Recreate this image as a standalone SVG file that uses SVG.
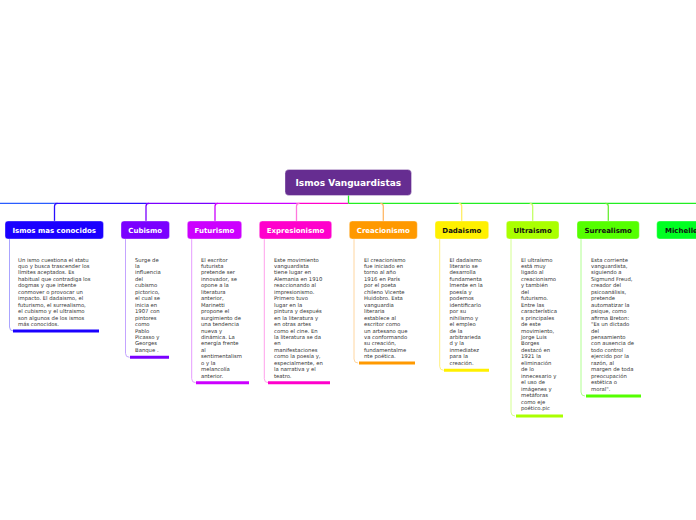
<svg xmlns="http://www.w3.org/2000/svg" width="696" height="520" viewBox="0 0 696 520">
<style>
.lbl{font-family:"DejaVu Sans",Verdana,sans-serif;font-weight:bold;font-size:7px;text-anchor:middle}
.root{font-family:"DejaVu Sans",Verdana,sans-serif;font-weight:bold;font-size:9px;text-anchor:middle;fill:#ffffff}
.w{fill:#ffffff}
.k{fill:#111111}
.body{font-family:"DejaVu Sans",Verdana,sans-serif;font-size:5.3px;fill:#333333}
.box{stroke:#ffffff;stroke-opacity:0.35;stroke-width:1}
.c{fill:none;stroke-width:1.3}
.side{fill:none;stroke-width:1}
.bar{stroke-width:3;fill:none}
</style>
<rect width="696" height="520" fill="#ffffff"/>
<g id="connectors">
<path class="c" d="M0,203.3 H54.5" stroke="#2a5cff"/>
<path class="c" d="M54.5,203.3 H146" stroke="#2a10ff"/>
<path class="c" d="M146,203.3 H215" stroke="#7a00ff"/>
<path class="c" d="M215,203.3 H296.5" stroke="#cc00ff"/>
<path class="c" d="M296.5,203.3 H348.5" stroke="#ff00cc"/>
<path class="c" d="M348.5,203.3 H696" stroke="#22ee22"/>
<path class="c" d="M348.5,195 V203.3" stroke="#22ee22"/>
<path class="c" d="M57.5,203.3 Q54.5,203.3 54.5,206.3 V221" stroke="#2a10ff"/>
<path class="c" d="M149,203.3 Q146,203.3 146,206.3 V221" stroke="#7a00ff"/>
<path class="c" d="M218,203.3 Q215,203.3 215,206.3 V221" stroke="#cc00ff"/>
<path class="c" d="M299.5,203.3 Q296.5,203.3 296.5,206.3 V221" stroke="#ff77dd"/>
<path class="c" d="M380.3,203.3 Q383.3,203.3 383.3,206.3 V221" stroke="#ffb866"/>
<path class="c" d="M458.7,203.3 Q461.7,203.3 461.7,206.3 V221" stroke="#ffee66"/>
<path class="c" d="M529.7,203.3 Q532.7,203.3 532.7,206.3 V221" stroke="#c4ff66"/>
<path class="c" d="M605.3,203.3 Q608.3,203.3 608.3,206.3 V221" stroke="#66ee33"/>
</g>
<g id="root">
<rect x="285" y="169.5" width="126.5" height="26" rx="4" fill="#662d91" class="box"/>
<text class="root" x="348.3" y="185.8">Ismos Vanguardistas</text>
</g>
<g id="n1">
<path class="side" d="M9.5,239 V327 Q9.5,331 13.5,331" stroke="#aaa4ff"/>
<line class="bar" x1="13" y1="331" x2="99" y2="331" stroke="#1a00ff"/>
<rect x="5" y="221" width="98.5" height="18" rx="3" fill="#1a00ff" class="box"/>
<text class="lbl w" x="54.2" y="232.5">Ismos mas conocidos</text>
<text class="body" y="261.5"><tspan x="18">Un ismo cuestiona el statu</tspan><tspan x="18" dy="6.46">quo y busca trascender los</tspan><tspan x="18" dy="6.46">límites aceptados. Es</tspan><tspan x="18" dy="6.46">habitual que contradiga los</tspan><tspan x="18" dy="6.46">dogmas y que intente</tspan><tspan x="18" dy="6.46">conmover o provocar un</tspan><tspan x="18" dy="6.46">impacto. El dadaismo, el</tspan><tspan x="18" dy="6.46">futurismo, el surrealismo,</tspan><tspan x="18" dy="6.46">el cubismo y el ultraismo</tspan><tspan x="18" dy="6.46">son algunos de los ismos</tspan><tspan x="18" dy="6.46">más conocidos.</tspan></text>
</g>
<g id="n2">
<path class="side" d="M125.5,239 V353.3 Q125.5,357.3 129.5,357.3" stroke="#c4a4ff"/>
<line class="bar" x1="130" y1="357.3" x2="169" y2="357.3" stroke="#7a00ff"/>
<rect x="121" y="221" width="48.5" height="18" rx="3" fill="#7a00ff" class="box"/>
<text class="lbl w" x="145.2" y="232.5">Cubismo</text>
<text class="body" y="261.5"><tspan x="135">Surge de</tspan><tspan x="135" dy="6.46">la</tspan><tspan x="135" dy="6.46">influencia</tspan><tspan x="135" dy="6.46">del</tspan><tspan x="135" dy="6.46">cubismo</tspan><tspan x="135" dy="6.46">pictorico,</tspan><tspan x="135" dy="6.46">el cual se</tspan><tspan x="135" dy="6.46">inicia en</tspan><tspan x="135" dy="6.46">1907 con</tspan><tspan x="135" dy="6.46">pintores</tspan><tspan x="135" dy="6.46">como</tspan><tspan x="135" dy="6.46">Pablo</tspan><tspan x="135" dy="6.46">Picasso y</tspan><tspan x="135" dy="6.46">Georges</tspan><tspan x="135" dy="6.46">Banque .</tspan></text>
</g>
<g id="n3">
<path class="side" d="M191.7,239 V378.7 Q191.7,382.7 195.7,382.7" stroke="#e69cff"/>
<line class="bar" x1="196" y1="382.7" x2="249" y2="382.7" stroke="#cc00ff"/>
<rect x="187.3" y="221" width="54.4" height="18" rx="3" fill="#cc00ff" class="box"/>
<text class="lbl w" x="214.5" y="232.5">Futurismo</text>
<text class="body" y="261.5"><tspan x="201">El escritor</tspan><tspan x="201" dy="6.46">futurista</tspan><tspan x="201" dy="6.46">pretende ser</tspan><tspan x="201" dy="6.46">innovador, se</tspan><tspan x="201" dy="6.46">opone a la</tspan><tspan x="201" dy="6.46">literatura</tspan><tspan x="201" dy="6.46">anterior,</tspan><tspan x="201" dy="6.46">Marinetti</tspan><tspan x="201" dy="6.46">propone el</tspan><tspan x="201" dy="6.46">surgimiento de</tspan><tspan x="201" dy="6.46">una tendencia</tspan><tspan x="201" dy="6.46">nueva y</tspan><tspan x="201" dy="6.46">dinámica. La</tspan><tspan x="201" dy="6.46">energía frente</tspan><tspan x="201" dy="6.46">al</tspan><tspan x="201" dy="6.46">sentimentalism</tspan><tspan x="201" dy="6.46">o y la</tspan><tspan x="201" dy="6.46">melancolía</tspan><tspan x="201" dy="6.46">anterior.</tspan></text>
</g>
<g id="n4">
<path class="side" d="M264.3,239 V378.7 Q264.3,382.7 268.3,382.7" stroke="#ffa0ec"/>
<line class="bar" x1="268" y1="382.7" x2="330" y2="382.7" stroke="#ff00cc"/>
<rect x="259.3" y="221" width="72.4" height="18" rx="3" fill="#ff00cc" class="box"/>
<text class="lbl w" x="295.5" y="232.5">Expresionismo</text>
<text class="body" y="261.5"><tspan x="274">Este movimiento</tspan><tspan x="274" dy="6.46">vanguardista</tspan><tspan x="274" dy="6.46">tiene lugar en</tspan><tspan x="274" dy="6.46">Alemania en 1910</tspan><tspan x="274" dy="6.46">reaccionando al</tspan><tspan x="274" dy="6.46">impresionismo.</tspan><tspan x="274" dy="6.46">Primero tuvo</tspan><tspan x="274" dy="6.46">lugar en la</tspan><tspan x="274" dy="6.46">pintura y después</tspan><tspan x="274" dy="6.46">en la literatura y</tspan><tspan x="274" dy="6.46">en otras artes</tspan><tspan x="274" dy="6.46">como el cine. En</tspan><tspan x="274" dy="6.46">la literatura se da</tspan><tspan x="274" dy="6.46">en</tspan><tspan x="274" dy="6.46">manifestaciones</tspan><tspan x="274" dy="6.46">como la poesía y,</tspan><tspan x="274" dy="6.46">especialmente, en</tspan><tspan x="274" dy="6.46">la narrativa y el</tspan><tspan x="274" dy="6.46">teatro.</tspan></text>
</g>
<g id="n5">
<path class="side" d="M354,239 V359 Q354,363 358,363" stroke="#ffd6a0"/>
<line class="bar" x1="359" y1="363" x2="415" y2="363" stroke="#ff9900"/>
<rect x="349.3" y="221" width="68" height="18" rx="3" fill="#ff9900" class="box"/>
<text class="lbl w" x="383.3" y="232.5">Creacionismo</text>
<text class="body" y="261.5"><tspan x="364">El creacionismo</tspan><tspan x="364" dy="6.46">fue iniciado en</tspan><tspan x="364" dy="6.46">torno al año</tspan><tspan x="364" dy="6.46">1916 en París</tspan><tspan x="364" dy="6.46">por el poeta</tspan><tspan x="364" dy="6.46">chileno Vicente</tspan><tspan x="364" dy="6.46">Huidobro. Esta</tspan><tspan x="364" dy="6.46">vanguardia</tspan><tspan x="364" dy="6.46">literaria</tspan><tspan x="364" dy="6.46">establece al</tspan><tspan x="364" dy="6.46">escritor como</tspan><tspan x="364" dy="6.46">un artesano que</tspan><tspan x="364" dy="6.46">va conformando</tspan><tspan x="364" dy="6.46">su creación,</tspan><tspan x="364" dy="6.46">fundamentalme</tspan><tspan x="364" dy="6.46">nte poética.</tspan></text>
</g>
<g id="n6">
<path class="side" d="M439.7,239 V366.3 Q439.7,370.3 443.7,370.3" stroke="#fff080"/>
<line class="bar" x1="444" y1="370.3" x2="489" y2="370.3" stroke="#fff000"/>
<rect x="435" y="221" width="53.7" height="18" rx="3" fill="#fff000" class="box"/>
<text class="lbl k" x="461.8" y="232.5">Dadaismo</text>
<text class="body" y="261.5"><tspan x="449.5">El dadaismo</tspan><tspan x="449.5" dy="6.46">literario se</tspan><tspan x="449.5" dy="6.46">desarrolla</tspan><tspan x="449.5" dy="6.46">fundamenta</tspan><tspan x="449.5" dy="6.46">lmente en la</tspan><tspan x="449.5" dy="6.46">poesía y</tspan><tspan x="449.5" dy="6.46">podemos</tspan><tspan x="449.5" dy="6.46">identificarlo</tspan><tspan x="449.5" dy="6.46">por su</tspan><tspan x="449.5" dy="6.46">nihilismo y</tspan><tspan x="449.5" dy="6.46">el empleo</tspan><tspan x="449.5" dy="6.46">de la</tspan><tspan x="449.5" dy="6.46">arbitrarieda</tspan><tspan x="449.5" dy="6.46">d y la</tspan><tspan x="449.5" dy="6.46">inmediatez</tspan><tspan x="449.5" dy="6.46">para la</tspan><tspan x="449.5" dy="6.46">creación.</tspan></text>
</g>
<g id="n7">
<path class="side" d="M511,239 V412 Q511,416 515,416" stroke="#d4ff90"/>
<line class="bar" x1="516" y1="416" x2="563" y2="416" stroke="#aaff00"/>
<rect x="506.3" y="221" width="52.7" height="18" rx="3" fill="#aaff00" class="box"/>
<text class="lbl k" x="532.6" y="232.5">Ultraismo</text>
<text class="body" y="261.5"><tspan x="521">El ultraísmo</tspan><tspan x="521" dy="6.46">está muy</tspan><tspan x="521" dy="6.46">ligado al</tspan><tspan x="521" dy="6.46">creacionismo</tspan><tspan x="521" dy="6.46">y también</tspan><tspan x="521" dy="6.46">del</tspan><tspan x="521" dy="6.46">futurismo.</tspan><tspan x="521" dy="6.46">Entre las</tspan><tspan x="521" dy="6.46">característica</tspan><tspan x="521" dy="6.46">s principales</tspan><tspan x="521" dy="6.46">de este</tspan><tspan x="521" dy="6.46">movimiento,</tspan><tspan x="521" dy="6.46">Jorge Luis</tspan><tspan x="521" dy="6.46">Borges</tspan><tspan x="521" dy="6.46">destacó en</tspan><tspan x="521" dy="6.46">1921 la</tspan><tspan x="521" dy="6.46">eliminación</tspan><tspan x="521" dy="6.46">de lo</tspan><tspan x="521" dy="6.46">innecesario y</tspan><tspan x="521" dy="6.46">el uso de</tspan><tspan x="521" dy="6.46">imágenes y</tspan><tspan x="521" dy="6.46">metáforas</tspan><tspan x="521" dy="6.46">como eje</tspan><tspan x="521" dy="6.46">poético.pic</tspan></text>
</g>
<g id="n8">
<path class="side" d="M581,239 V392 Q581,396 585,396" stroke="#b0ff90"/>
<line class="bar" x1="586" y1="396" x2="641" y2="396" stroke="#55ff00"/>
<rect x="577" y="221" width="62.3" height="18" rx="3" fill="#55ff00" class="box"/>
<text class="lbl k" x="608.2" y="232.5">Surrealismo</text>
<text class="body" y="261.5"><tspan x="591">Esta corriente</tspan><tspan x="591" dy="6.46">vanguardista,</tspan><tspan x="591" dy="6.46">siguiendo a</tspan><tspan x="591" dy="6.46">Sigmund Freud,</tspan><tspan x="591" dy="6.46">creador del</tspan><tspan x="591" dy="6.46">psicoanálisis,</tspan><tspan x="591" dy="6.46">pretende</tspan><tspan x="591" dy="6.46">automatizar la</tspan><tspan x="591" dy="6.46">psique, como</tspan><tspan x="591" dy="6.46">afirma Breton:</tspan><tspan x="591" dy="6.46">"Es un dictado</tspan><tspan x="591" dy="6.46">del</tspan><tspan x="591" dy="6.46">pensamiento</tspan><tspan x="591" dy="6.46">con ausencia de</tspan><tspan x="591" dy="6.46">todo control</tspan><tspan x="591" dy="6.46">ejercido por la</tspan><tspan x="591" dy="6.46">razón, al</tspan><tspan x="591" dy="6.46">margen de toda</tspan><tspan x="591" dy="6.46">preocupación</tspan><tspan x="591" dy="6.46">estética o</tspan><tspan x="591" dy="6.46">moral".</tspan></text>
</g>
<g id="n9">
<rect x="656.7" y="221" width="60" height="18" rx="3" fill="#00ff22" class="box"/>
<text class="lbl k" x="665" y="232.5" style="text-anchor:start">Michelle</text>
</g>
</svg>
